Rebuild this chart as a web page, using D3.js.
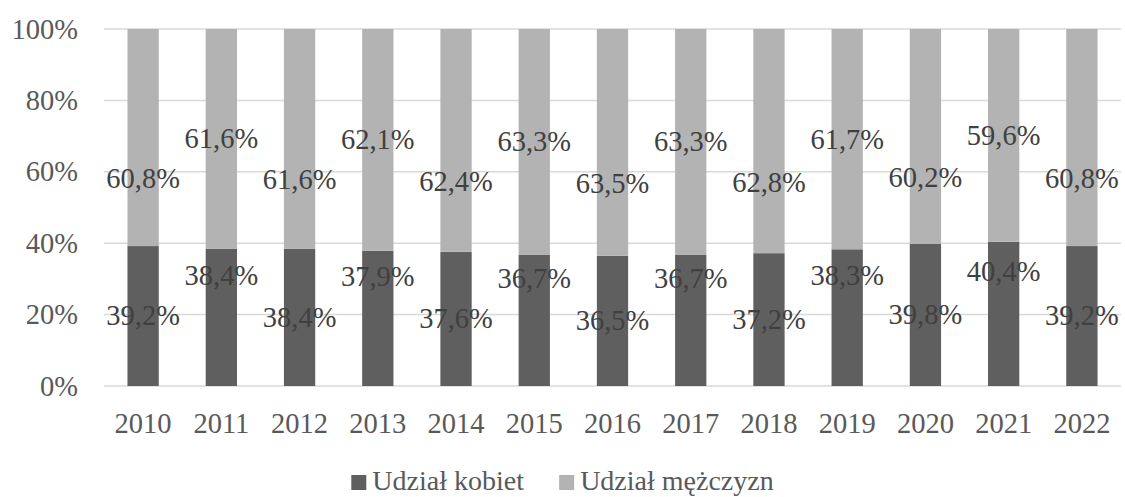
<!DOCTYPE html>
<html>
<head>
<meta charset="utf-8">
<script src="https://cdn.jsdelivr.net/npm/d3@7"></script>
<style>
  body { margin: 0; background: #fff; }
  text { font-family: "Liberation Serif", "Times New Roman", serif; }
</style>
</head>
<body>
<div id="chart"></div>
<script>
// data
var years = ["2010", "2011", "2012", "2013", "2014", "2015", "2016", "2017", "2018", "2019", "2020", "2021", "2022"];
var women = [39.2, 38.4, 38.4, 37.9, 37.6, 36.7, 36.5, 36.7, 37.2, 38.3, 39.8, 40.4, 39.2];
var men = [60.8, 61.6, 61.6, 62.1, 62.4, 63.3, 63.5, 63.3, 62.8, 61.7, 60.2, 59.6, 60.8];
var seriesNames = ["Udział kobiet", "Udział mężczyzn"];
var yTicks = [0, 20, 40, 60, 80, 100];

var rows = years.map(function(y, i) {
    return { year: y, women: women[i], men: men[i] };
});

var width = 1125, height = 497;
var margin = { top: 29, right: 4, bottom: 111, left: 104 };
var innerW = width - margin.left - margin.right,
    innerH = height - margin.top - margin.bottom;

var svg = d3.select("#chart")
    .append("svg")
    .attr("width", width)
    .attr("height", height)
    .attr("font-family", "Liberation Serif, Times New Roman, serif");

var g = svg.append("g")
    .attr("transform", "translate(" + margin.left + "," + margin.top + ")");

var x = d3.scaleBand()
    .domain(years)
    .range([0, innerW])
    .paddingInner(0.6)
    .paddingOuter(0.3);

var y = d3.scaleLinear()
    .domain([0, 100])
    .range([innerH, 0]);

var color = d3.scaleOrdinal()
    .domain(["women", "men"])
    .range(["#5f5f5f", "#b3b3b3"]);

// gridlines
g.append("g")
    .selectAll("line")
    .data(yTicks)
    .enter()
    .append("line")
    .attr("x1", 0)
    .attr("x2", innerW)
    .attr("y1", d => y(d))
    .attr("y2", d => y(d))
    .style("stroke", "#d9d9d9")
    .style("stroke-width", 1.5);

// y axis labels
var yAxis = g.append("g")
    .call(d3.axisLeft(y).tickValues(yTicks).tickSize(0).tickPadding(26).tickFormat(d => d + "%"));
yAxis.attr("font-family", null);
yAxis.select(".domain").remove();
yAxis.selectAll("text")
    .style("font-size", "28.5px")
    .style("fill", "#595959");

// x axis labels
var xAxis = g.append("g")
    .attr("transform", "translate(0," + innerH + ")")
    .call(d3.axisBottom(x).tickSize(0).tickPadding(27));
xAxis.attr("font-family", null);
xAxis.select(".domain").remove();
xAxis.selectAll("text")
    .style("font-size", "28.5px")
    .style("fill", "#595959");

// stacked bars
var stack = d3.stack().keys(["women", "men"]);
var series = stack(rows);

g.append("g")
    .selectAll("g")
    .data(series)
    .enter()
    .append("g")
    .style("fill", d => color(d.key))
    .selectAll("rect")
    .data(d => d)
    .enter()
    .append("rect")
    .attr("x", d => x(d.data.year))
    .attr("width", x.bandwidth())
    .attr("y", d => y(d[1]))
    .attr("height", d => y(d[0]) - y(d[1]));

// data labels, alternating offset so neighbours do not collide
var labels = [];
series.forEach(function(s) {
    s.forEach(function(d, i) {
        var shift = 0;
        if (s.key === "women" && i % 2 === 1) shift = -42;
        if (s.key === "men" && i % 2 === 0) shift = 41;
        labels.push({
            year: d.data.year,
            value: d.data[s.key],
            cy: y((d[0] + d[1]) / 2) + shift
        });
    });
});

g.append("g")
    .selectAll("text")
    .data(labels)
    .enter()
    .append("text")
    .attr("x", d => x(d.year) + x.bandwidth() / 2)
    .attr("y", d => d.cy)
    .attr("dy", "0.33em")
    .attr("text-anchor", "middle")
    .style("font-size", "28.5px")
    .style("fill", "#404040")
    .text(d => d.value.toFixed(1).replace(".", ",") + "%");

// legend
var legend = svg.append("g");
var items = legend.selectAll("g")
    .data(seriesNames)
    .enter()
    .append("g");
items.append("rect")
    .attr("width", 15)
    .attr("height", 15)
    .attr("y", -15)
    .style("fill", (d, i) => color.range()[i]);
items.append("text")
    .attr("x", 21)
    .attr("y", 0)
    .style("font-size", "28px")
    .style("fill", "#595959")
    .text(d => d);

var offset = 0;
items.each(function() {
    var w = this.getBBox().width;
    d3.select(this).attr("transform", "translate(" + offset + ",0)");
    offset += w + 35;
});
var total = offset - 35;
legend.attr("transform", "translate(" + ((width - total) / 2) + ",490)");
</script>
</body>
</html>
